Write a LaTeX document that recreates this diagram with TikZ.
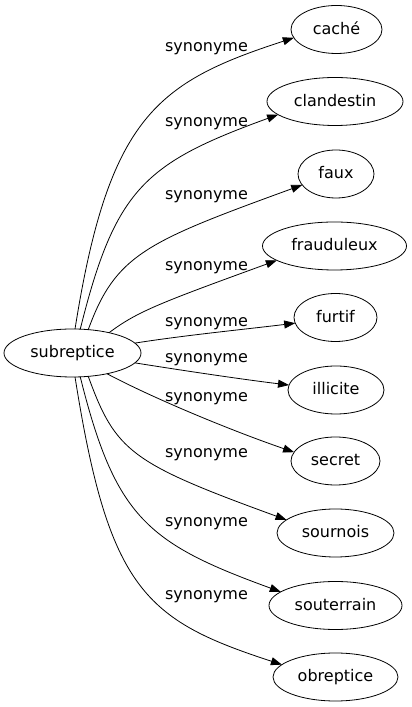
\documentclass[tikz,border=0pt]{standalone}
\usepackage{fontspec}
\setmainfont{DejaVu Sans}
\usetikzlibrary{shapes.geometric,arrows.meta}
\begin{document}
\begin{tikzpicture}[x=1pt,y=1pt,
  every node/.style={font=\fontsize{16}{18}\selectfont, text height=12pt, text depth=2pt, inner sep=0pt, outer sep=0pt},
  term/.style={ellipse, draw, line width=0.8pt, minimum height=48pt},
  lbl/.style={},
  edge/.style={line width=0.8pt, -{Triangle[length=11pt,width=8pt]}}]
\useasboundingbox (0,0) rectangle (412,707);
\node[term, minimum width=137pt] (s) at (72.5,354) {subreptice};
\node[term, minimum width=91pt] (t1) at (336.5,677.5) {caché};
\node[term, minimum width=136pt] (t2) at (335,605.5) {clandestin};
\node[term, minimum width=76pt] (t3) at (336,533) {faux};
\node[term, minimum width=144pt] (t4) at (334.5,461) {frauduleux};
\node[term, minimum width=83pt] (t5) at (335.5,389.5) {furtif};
\node[term, minimum width=96pt] (t6) at (336,317) {illicite};
\node[term, minimum width=89pt] (t7) at (335.5,246) {secret};
\node[term, minimum width=117pt] (t8) at (335.5,174) {sournois};
\node[term, minimum width=133pt] (t9) at (335.5,101.5) {souterrain};
\node[term, minimum width=125pt] (t10) at (335.5,30) {obreptice};

\node[lbl] (l1) at (206.5,660) {synonyme};
\node[lbl] (l2) at (206.5,585) {synonyme};
\node[lbl] (l3) at (206.5,512) {synonyme};
\node[lbl] (l4) at (206.5,441) {synonyme};
\node[lbl] (l5) at (206.5,385) {synonyme};
\node[lbl] (l6) at (206.5,349) {synonyme};
\node[lbl] (l7) at (206.5,310) {synonyme};
\node[lbl] (l8) at (206.5,254) {synonyme};
\node[lbl] (l9) at (206.5,185) {synonyme};
\node[lbl] (l10) at (206.5,112) {synonyme};

\draw[edge] (s.84) .. controls +(81:215) and +(198:144) .. (t1.191);
\draw[edge] (s.72) .. controls +(76:145) and +(200:142) .. (t2.193);
\draw[edge] (s.56) .. controls +(70:80) and +(200:166) .. (t3.198);
\draw[edge] (s.29) .. controls +(37:35) and +(200:125) .. (t4.194);
\draw[edge] (s.9) .. controls +(9:50) and +(187:50) .. (t5.188);
\draw[edge] (s.-9) .. controls +(-9:50) and +(173:50) .. (t6.174);
\draw[edge] (s.-31) .. controls +(-28:50) and +(161:70) .. (t7.168);
\draw[edge] (s.-56) .. controls +(-70:80) and +(160:166) .. (t8.165);
\draw[edge] (s.-72) .. controls +(-76:145) and +(160:142) .. (t9.166);
\draw[edge] (s.-84) .. controls +(-81:215) and +(162:144) .. (t10.167);
\end{tikzpicture}
\end{document}
